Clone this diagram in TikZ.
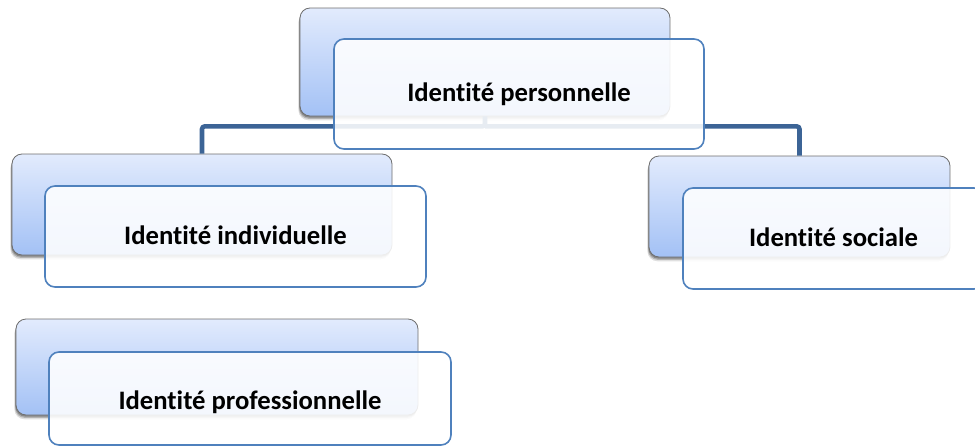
\documentclass[tikz,border=0pt]{standalone}
\usepackage{fontspec}
\setmainfont{Carlito}[Ligatures={NoCommon,NoRare,NoContextual}]
\usetikzlibrary{shadows}
\definecolor{boxtop}{RGB}{226,235,253}
\definecolor{boxbottom}{RGB}{163,193,245}
\definecolor{boxedge}{RGB}{110,110,110}
\definecolor{frontedge}{RGB}{79,129,189}
\definecolor{linkblue}{RGB}{60,100,150}
\tikzset{
  backbox/.style={rectangle, rounded corners=7.5pt, draw=boxedge, line width=0.6pt,
    top color=boxtop, bottom color=boxbottom, inner sep=0pt,
    drop shadow={shadow xshift=-1.2pt, shadow yshift=-3.2pt, opacity=0.12, fill=black},
    drop shadow={shadow xshift=-0.8pt, shadow yshift=-2.2pt, opacity=0.2, fill=black},
    drop shadow={shadow xshift=-0.4pt, shadow yshift=-1.2pt, opacity=0.25, fill=black}},
  frontbox/.style={rectangle, rounded corners=7.5pt, draw=frontedge, line width=1.2pt,
    fill=white, fill opacity=0.88, text opacity=1, inner sep=0pt,
    font=\bfseries\fontsize{20}{24}\selectfont, text height=13.4pt, text depth=2pt},
  link/.style={draw=linkblue, line width=3.4pt, rounded corners=2pt},
}
\begin{document}
\begin{tikzpicture}[x=0.75pt, y=-0.75pt]
\useasboundingbox (0,0) rectangle (975,446);
\clip (0,0) rectangle (975,446);

% background plates
\node[backbox, minimum width=277.5pt, minimum height=81pt] (pback) at (485,62) {};
\node[backbox, minimum width=285pt, minimum height=75.75pt] (iback) at (202,204.5) {};
\node[backbox, minimum width=225.75pt, minimum height=75.75pt] (sback) at (799.5,206.5) {};
\node[backbox, minimum width=301.5pt, minimum height=72pt] (prback) at (217,367) {};

% connectors
\draw[link] (pback.south) -- ++(0,10) coordinate (hub) -| (iback.north);
\draw[link] (hub) -| (sback.north);

% front cards with labels
\node[frontbox, minimum width=277.5pt, minimum height=82.5pt] (pfront) at (519,94) {Identité personnelle};
\node[frontbox, minimum width=285.75pt, minimum height=75.75pt] (ifront) at (235.5,236.5) {Identité individuelle};
\node[frontbox, minimum width=225.75pt, minimum height=75.75pt] (sfront) at (833.5,238.5) {Identité sociale};
\node[frontbox, minimum width=301.5pt, minimum height=69.75pt, text height=18.4pt] (prfront) at (250,398.5) {Identité professionnelle};
\end{tikzpicture}
\end{document}
